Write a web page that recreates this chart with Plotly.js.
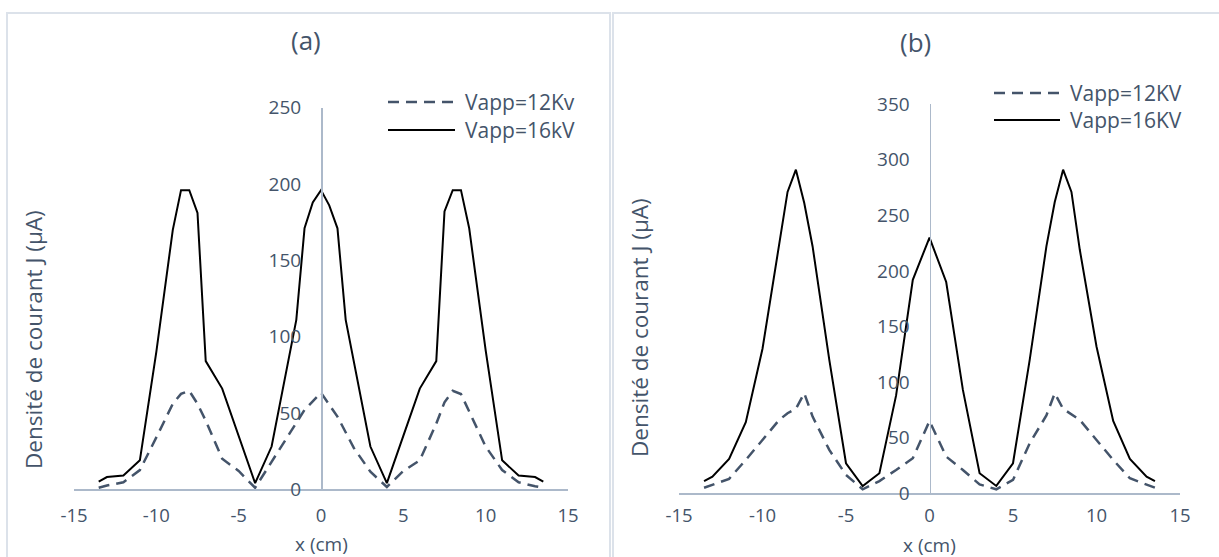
<!DOCTYPE html>
<html>
<head>
<meta charset="utf-8">
<script src="https://cdn.plot.ly/plotly-3.0.1.min.js"></script>
<style>
  html, body { margin: 0; padding: 0; background: #ffffff; }
  #chart { width: 1219px; height: 557px; }
</style>
</head>
<body>
<div id="chart"></div>
<script>
// Current density profiles along x for two applied voltages, two electrode set-ups

// Panel (a)
const xA12 = [-13.5, -13, -12, -11, -10, -9, -8.5, -8, -7.5, -7, -6, -5, -4, -3, -2, -1, 0, 1, 2, 3, 4, 5, 6, 7, 7.5, 8, 8.5, 9, 10, 11, 12, 13, 13.5];
const yA12 = [1, 2.5, 4.6, 12.6, 34, 56, 62.5, 64.5, 56, 45, 20, 12, 1, 18, 35.5, 52, 63.3, 47.6, 27, 11.5, 1.5, 12, 19, 43, 57, 64.5, 62.4, 51, 28, 12.6, 4.6, 2, 1];

const xA16 = [-13.5, -13, -12, -11, -10, -9, -8.5, -8, -7.5, -7, -6, -5, -4, -3, -1.5, -1, -0.5, 0, 0.5, 1, 1.5, 3, 4, 5, 6, 7, 7.5, 8, 8.5, 9, 10, 11, 12, 13, 13.5];
const yA16 = [5, 8, 9, 19, 90, 170, 196, 196, 181, 84, 66, 35, 4, 28, 111, 171, 188, 196, 186, 171, 111, 28, 4, 35, 66, 84, 182, 196, 196, 171, 91, 19, 9, 8, 5];

// Panel (b)
const xB12 = [-13.5, -12, -11, -10, -9, -8.5, -8, -7.5, -7, -6, -5, -4, -3, -2, -1, 0, 1, 2, 3, 4, 5, 6, 7, 7.5, 8, 9, 10, 11, 12, 13.5];
const yB12 = [5, 13, 30, 48, 66, 72, 76, 90, 69, 39, 16.5, 3.6, 11, 21, 31.5, 65, 33, 21, 8, 3.6, 12, 45, 70, 90, 76, 66, 48, 30, 13.5, 5];

const xB16 = [-13.5, -13, -12, -11, -10, -9, -8.5, -8, -7.5, -7, -6, -5, -4, -3, -2, -1, 0, 1, 2, 3, 4, 5, 6, 7, 7.5, 8, 8.5, 9, 10, 11, 12, 13, 13.5];
const yB16 = [11, 15, 31, 64, 130, 224, 271, 291, 261, 222, 120, 27, 6.5, 18, 88, 192, 230, 190, 93, 18, 6.6, 27, 120, 222, 262, 291, 271, 219, 132, 65, 31, 15, 11];

const seriesNamesA = ['Vapp=12Kv', 'Vapp=16kV'];
const seriesNamesB = ['Vapp=12KV', 'Vapp=16KV'];
const panelTitles = ['(a)', '(b)'];
const xTitle = 'x (cm)';
const yTitle = 'Densité de courant J (μA)';
const xTickVals = [-15, -10, -5, 0, 5, 10, 15];
const xTickText = ['-15', '-10', '-5', '0', '5', '10', '15'];

const W = 1219, H = 557;
const px = v => v / W;          // horizontal pixel -> paper
const py = v => 1 - v / H;      // vertical pixel (from top) -> paper

const TEXT = '#44546A';
const AXIS = '#ACB9CA';
const FRAME = '#DCE2EA';
const FONT = 'Open Sans, sans-serif';
const dashStyle = { color: '#44546A', width: 2.5, dash: '11px,7px' };
const solidStyle = { color: '#000000', width: 2 };

const traces = [
  { x: xA12, y: yA12, name: seriesNamesA[0], mode: 'lines', line: dashStyle, xaxis: 'x', yaxis: 'y', showlegend: false },
  { x: xA16, y: yA16, name: seriesNamesA[1], mode: 'lines', line: solidStyle, xaxis: 'x', yaxis: 'y', showlegend: false },
  { x: xB12, y: yB12, name: seriesNamesB[0], mode: 'lines', line: dashStyle, xaxis: 'x2', yaxis: 'y2', showlegend: false },
  { x: xB16, y: yB16, name: seriesNamesB[1], mode: 'lines', line: solidStyle, xaxis: 'x2', yaxis: 'y2', showlegend: false }
];

const domA = [px(74), px(568)];
const domB = [px(679), px(1180)];

function xAxis(domain, yref, standoff) {
  return {
    domain: domain, range: [-15, 15], anchor: yref,
    tickmode: 'array', tickvals: xTickVals, ticktext: xTickText,
    ticks: '', showgrid: false, zeroline: false,
    showline: true, linecolor: AXIS, linewidth: 1.5,
    tickfont: { family: FONT, size: 18.5, color: TEXT },
    ticklabelstandoff: standoff, fixedrange: true
  };
}
function yAxis(domain, xdomain, top) {
  return {
    domain: domain, range: [0, top], dtick: 50, tick0: 0,
    anchor: 'free', position: (xdomain[0] + xdomain[1]) / 2,
    ticks: '', showgrid: false, zeroline: false,
    showline: true, linecolor: AXIS, linewidth: 1.5,
    tickfont: { family: FONT, size: 19, color: TEXT },
    ticklabelstandoff: 16, fixedrange: true
  };
}

// Legend keys drawn as short line samples next to their labels
function legendShapes(x0, x1, yRows) {
  return [
    { type: 'line', xref: 'paper', yref: 'paper', x0: px(x0), x1: px(x1), y0: py(yRows[0]), y1: py(yRows[0]), line: dashStyle },
    { type: 'line', xref: 'paper', yref: 'paper', x0: px(x0), x1: px(x1), y0: py(yRows[1]), y1: py(yRows[1]), line: solidStyle }
  ];
}
function legendLabels(xText, yRows, names) {
  return names.map((n, i) => ({
    text: n, xref: 'paper', yref: 'paper', x: px(xText), y: py(yRows[i]),
    xanchor: 'left', yanchor: 'middle', showarrow: false,
    font: { family: FONT, size: 21, color: TEXT }
  }));
}

const frames = [
  { type: 'rect', xref: 'paper', yref: 'paper', x0: px(7), x1: px(610), y0: py(13), y1: -0.1, line: { color: FRAME, width: 2 } },
  { type: 'rect', xref: 'paper', yref: 'paper', x0: px(613), x1: 1.1, y0: py(13), y1: -0.1, line: { color: FRAME, width: 2 } }
];

const plainText = (text, x, y, size, angle) => ({
  text: text, xref: 'paper', yref: 'paper', x: px(x), y: py(y),
  xanchor: 'center', yanchor: 'middle', showarrow: false, textangle: angle || 0,
  font: { family: FONT, size: size, color: TEXT }
});

const layout = {
  width: W, height: H,
  margin: { l: 0, r: 0, t: 0, b: 0 },
  paper_bgcolor: '#ffffff', plot_bgcolor: 'rgba(0,0,0,0)',
  showlegend: false,
  xaxis: xAxis(domA, 'y', 9),
  yaxis: yAxis([py(489.3), py(107.7)], domA, 250),
  xaxis2: xAxis(domB, 'y2', 5),
  yaxis2: yAxis([py(493.3), py(104.1)], domB, 350),
  shapes: frames
    .concat(legendShapes(388, 455, [102, 130]))
    .concat(legendShapes(994, 1060, [93, 120])),
  annotations: [
    plainText(panelTitles[0], 306, 40, 26),
    plainText(panelTitles[1], 915, 42, 26),
    plainText(xTitle, 321, 544, 19),
    plainText(xTitle, 929, 545, 19),
    plainText(yTitle, 33, 340, 22.5, -90),
    plainText(yTitle, 639, 328, 22.5, -90)
  ]
    .concat(legendLabels(463, [102, 130], seriesNamesA))
    .concat(legendLabels(1068, [93, 120], seriesNamesB))
};

Plotly.newPlot('chart', traces, layout, { staticPlot: true, displayModeBar: false });
</script>
</body>
</html>
